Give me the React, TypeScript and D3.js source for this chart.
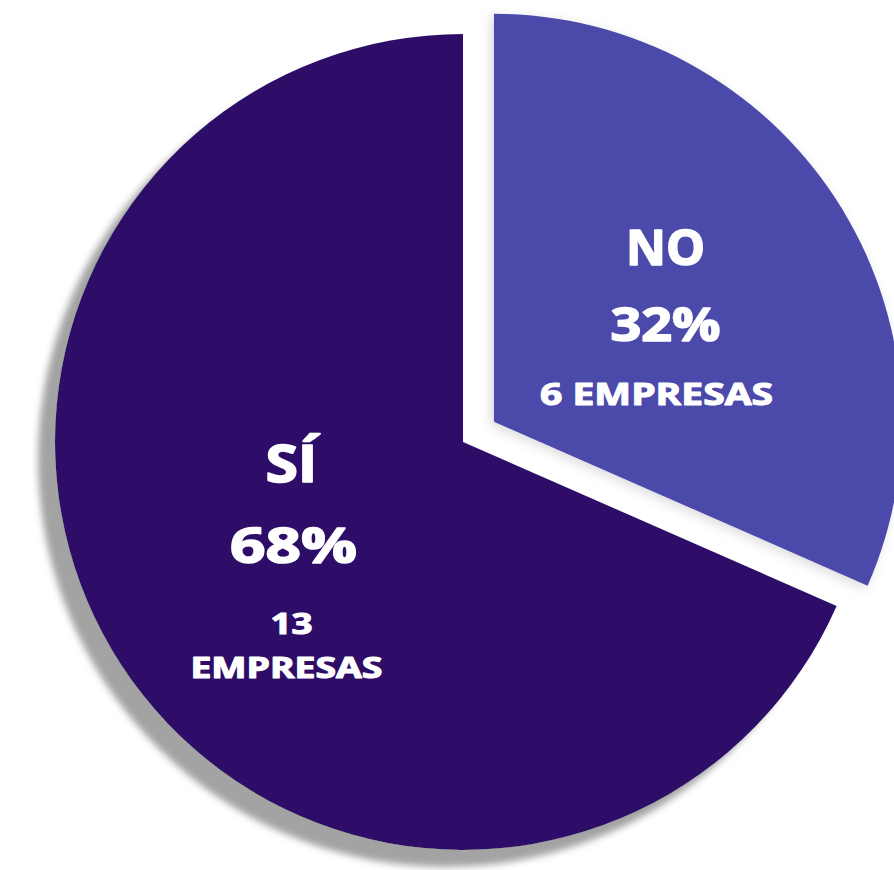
import React from "react";
import * as d3 from "d3";

// ---- data ----
const categories = ["NO", "SÍ"];
const companies = [6, 13];
const countLines = [["6 EMPRESAS"], ["13", "EMPRESAS"]];
const colors = ["#4c4aaa", "#2e1169"];

// ---- layout / style constants ----
const W = 894;
const H = 870;
const CX = 463;
const CY = 442;
const R = 408;
const EXPLODE = [37, 0];
const LABEL_R = 205;

type Line = { dy: number; dx: number; size: number; len: number };

const lineStyles: Line[][] = [
  [
    { dy: -45, dx: 0, size: 49, len: 79 },
    { dy: 31, dx: 0, size: 46, len: 110 },
    { dy: 95, dx: -9, size: 31, len: 233 },
  ],
  [
    { dy: -72, dx: 0, size: 52, len: 52 },
    { dy: 9, dx: 2, size: 49, len: 127 },
    { dy: 80, dx: 0, size: 28, len: 42 },
    { dy: 124, dx: -5, size: 28, len: 192 },
  ],
];

export default function App() {
  const total = d3.sum(companies);
  const pie = d3
    .pie<number>()
    .sort(null)
    .startAngle(0)
    .endAngle(2 * Math.PI);
  const arcs = pie(companies);
  const arc = d3.arc<d3.PieArcDatum<number>>().innerRadius(0).outerRadius(R);
  const labelArc = d3
    .arc<d3.PieArcDatum<number>>()
    .innerRadius(LABEL_R)
    .outerRadius(LABEL_R);

  const order = [1, 0];

  return (
    <svg
      width={W}
      height={H}
      style={{ position: "absolute", left: 0, top: 0, background: "#ffffff" }}
      fontFamily="'Open Sans', 'Noto Sans', sans-serif"
    >
      <defs>
        <filter id="shBig" x="-25%" y="-25%" width="150%" height="150%">
          <feDropShadow dx={-17} dy={17} stdDeviation={3.5} floodColor="#a3a3a3" floodOpacity={1} />
        </filter>
        <filter id="shSmall" x="-25%" y="-25%" width="150%" height="150%">
          <feDropShadow dx={-3} dy={3} stdDeviation={6} floodColor="#000000" floodOpacity={0.14} />
        </filter>
      </defs>
      {order.map((i) => {
        const a = arcs[i];
        const mid = (a.startAngle + a.endAngle) / 2;
        const off = EXPLODE[i];
        const ox = CX + off * Math.sin(mid);
        const oy = CY - off * Math.cos(mid);
        const [lx, ly] = labelArc.centroid(a);
        const pct = Math.round((companies[i] / total) * 100) + "%";
        const texts = [categories[i], pct, ...countLines[i]];
        return (
          <g key={categories[i]} transform={`translate(${ox},${oy})`}>
            <path
              d={arc(a) || ""}
              fill={colors[i]}
              filter={i === 1 ? "url(#shBig)" : "url(#shSmall)"}
            />
            {texts.map((t, j) => {
              const st = lineStyles[i][j];
              return (
                <text
                  key={j}
                  x={lx + st.dx}
                  y={ly + st.dy}
                  textAnchor="middle"
                  fill="#ffffff"
                  stroke="#ffffff"
                  strokeWidth={st.size > 40 ? 1.6 : 1.1}
                  strokeLinejoin="round"
                  fontWeight={700}
                  fontSize={st.size}
                  textLength={st.len}
                  lengthAdjust="spacingAndGlyphs"
                >
                  {t}
                </text>
              );
            })}
          </g>
        );
      })}
    </svg>
  );
}
